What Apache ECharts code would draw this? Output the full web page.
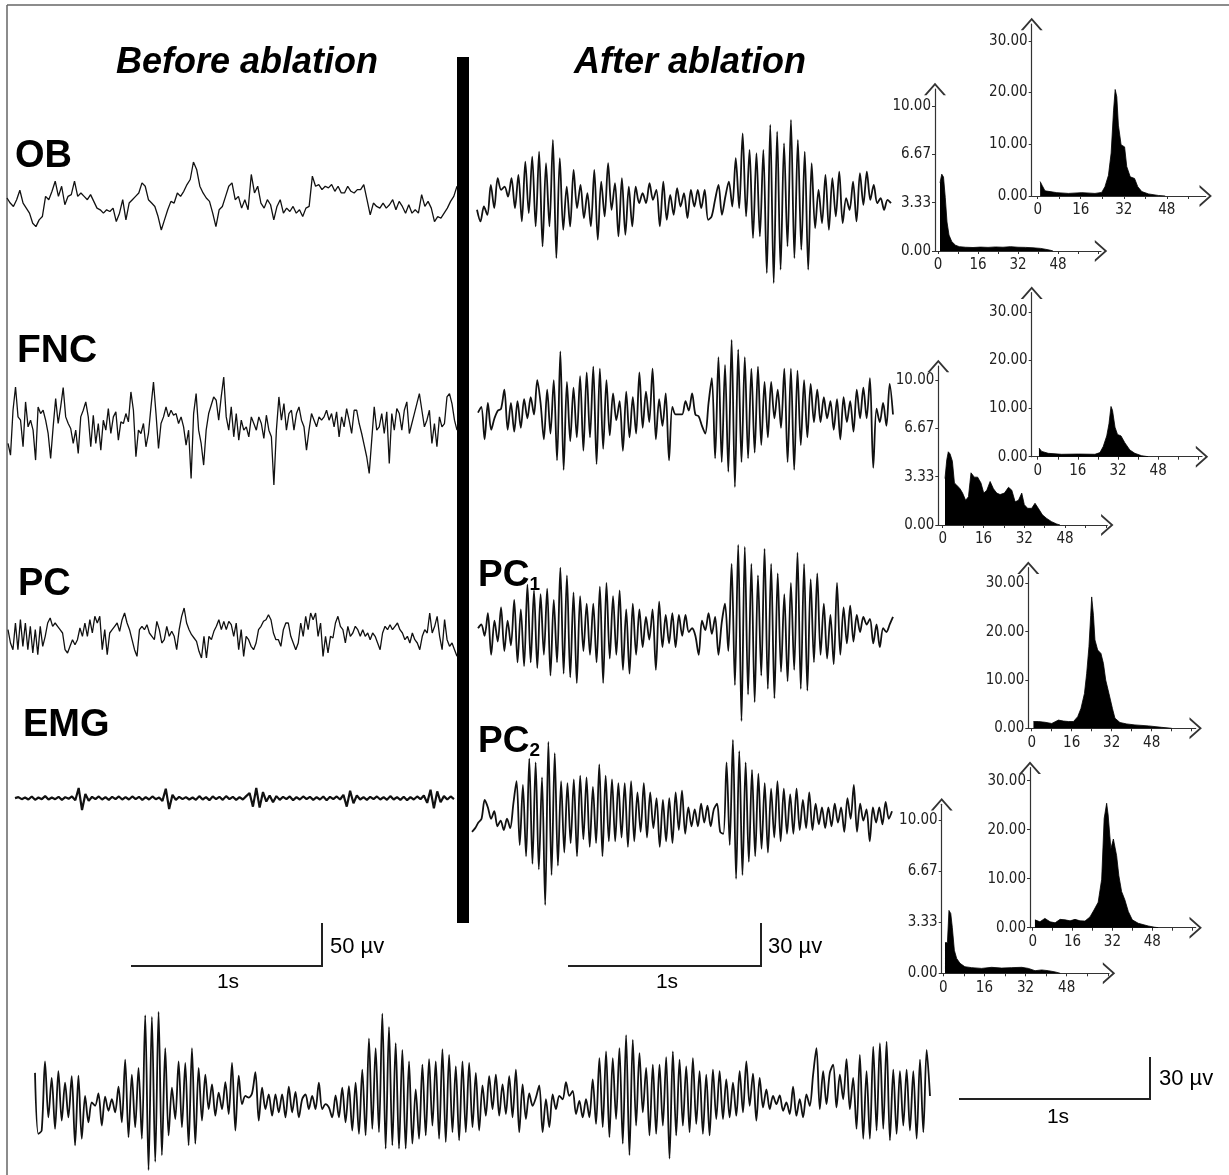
<!DOCTYPE html>
<html>
<head>
<meta charset="utf-8">
<script src="https://cdn.jsdelivr.net/npm/echarts@6/dist/echarts.min.js"></script>
<style>
html, body { margin: 0; padding: 0; background: #fff; }
#main { width: 1229px; height: 1175px; }
</style>
</head>
<body>
<div id="main"></div>
<script>
// ==============================================================
// Field potential traces (digitised amplitude, + = up),
// evenly sampled along the sweep
// ==============================================================
var beforeOB = [20,5,-5,15,43,5,-10,-25,-55,-65,-45,-35,25,15,40,70,25,55,0,25,30,70,25,35,25,15,30,10,-10,-15,
  -25,-15,-20,-10,-50,-25,15,-45,5,15,25,35,65,55,15,5,-5,-35,-75,-45,-15,10,5,35,25,40,60,75,127,105,
  55,35,20,10,-25,-65,-15,-5,25,55,65,15,25,-10,15,-15,90,35,55,5,-10,15,0,-45,-5,15,-25,-10,-20,-5,
  -25,-15,-35,-10,-5,85,55,60,45,55,50,60,40,55,35,35,55,40,35,45,45,60,15,-30,5,-5,-10,5,-10,0,
  15,-15,10,-5,-25,0,-25,-15,-25,30,-5,10,-10,-50,-35,-40,-25,-10,10,25,55];

var beforeFNC = [-50,-85,50,120,30,20,-60,75,0,20,-10,-100,60,40,50,20,-20,-95,0,85,10,60,118,30,10,-5,-50,-10,-80,30,
  50,75,30,-60,35,-50,10,-70,20,-10,55,-20,30,45,-40,15,10,40,15,105,50,-90,-10,-20,10,-60,-20,60,135,40,
  -65,10,30,60,30,50,35,40,10,30,0,-55,-10,-155,40,100,-10,-50,-115,-10,40,65,90,80,20,90,150,30,-10,60,
  -30,40,-40,20,-10,0,-30,30,10,-10,30,10,-35,35,-10,-30,-175,-10,90,20,70,-10,40,50,-10,40,60,20,0,-70,
  -10,40,20,0,30,20,30,50,20,40,0,45,-30,30,0,55,20,-20,50,50,10,-20,-55,-90,-140,-40,60,-10,0,40,
  -20,45,-110,40,-10,55,40,-10,50,75,-20,10,40,70,100,50,0,20,50,-50,10,-60,30,0,10,90,100,70,20,-10];

var beforePC = [10,-30,-50,30,-50,40,-40,30,-50,20,-60,10,-65,20,-40,-10,30,45,20,30,20,10,0,-50,-60,-40,-20,-35,-20,15,
  -10,30,-10,40,0,50,30,50,-50,10,-65,0,10,20,30,5,40,60,30,10,-20,-50,-70,10,20,10,25,0,-10,-20,
  35,10,-30,-20,20,-10,5,-10,-50,10,50,75,30,10,-5,-15,-25,-55,-75,-10,-75,-10,-20,5,20,40,10,35,10,35,
  25,-10,30,-50,10,-70,-10,-20,-40,-50,-30,10,20,35,40,55,40,0,-20,-20,-40,10,30,30,-10,-30,-50,-30,30,-10,
  50,10,60,40,60,-10,30,-70,-10,-60,-10,-15,30,50,20,10,-30,20,-10,0,20,10,-10,10,-10,0,-20,0,-10,-30,
  -50,0,20,10,25,10,20,30,10,0,-20,-10,-30,0,-20,-30,-50,-10,10,0,60,0,20,50,-10,-50,40,-20,-40,-30,
  -50,-70];

var emg = [0,3,-3,2,-4,5,-5,2,-3,6,-4,2,-3,4,-5,3,-2,5,-6,
  30,-35,12,-8,
  4,-3,5,-4,3,-5,4,-3,5,-4,3,-4,5,-3,4,-5,3,-4,5,-3,2,
  -8,28,-32,10,-5,
  4,-3,3,-4,2,-5,6,-4,3,-6,5,-3,4,-5,6,-3,4,-5,3,-4,6,
  15,-25,30,-28,18,-10,
  8,-12,6,-5,4,-3,5,-6,3,-4,5,-3,4,-5,3,-4,5,-6,4,-3,5,-4,
  10,-25,22,-15,8,-4,
  3,-5,4,-3,5,-4,3,-5,6,-4,3,-5,4,-6,3,-4,5,-3,8,
  -14,25,-30,20,-12,6,
  -4,5,-3];

var afterOB = [-15,-50,-5,-30,60,-10,80,45,55,25,80,-10,90,-50,130,-25,145,-65,160,-125,125,-65,195,-160,140,-75,55,-65,105,-10,
  60,-40,35,-65,105,-105,70,-35,125,-15,65,-95,80,-90,55,-65,55,5,35,5,65,15,45,-65,70,-45,30,-30,50,-5,
  35,-40,45,-5,45,-10,45,-45,-35,15,60,-30,25,70,-5,140,-10,215,-35,165,-100,155,-95,165,-205,240,-235,220,-195,185,
  -125,255,-160,195,-135,160,-195,125,-70,45,-55,90,-75,80,-35,100,-55,20,-15,70,-50,95,0,100,15,60,5,20,-15,15,5];

var afterFNC = [0,15,-70,25,-45,-15,5,10,60,-45,25,-50,30,-40,35,-15,40,-5,85,25,-70,60,-55,85,-125,160,-150,80,-75,65,
  -65,95,-100,105,-65,120,-135,115,-95,85,-60,50,-20,30,-100,55,-65,40,-55,105,-40,55,-25,115,-70,35,-35,50,-125,15,
  -5,-5,-5,30,5,50,-5,-10,-35,-55,25,90,-120,145,-130,125,-155,190,-195,165,-130,145,-120,115,-105,120,-85,80,-65,80,
  -15,60,-40,115,-130,115,-150,110,-85,85,-65,75,-25,60,-25,40,-15,30,-45,35,-70,40,-25,30,-50,60,-15,65,-15,90,
  -145,10,-25,25,-35,75,-5];

var afterPC1 = [10,20,-10,50,-60,30,-25,65,-50,30,-35,85,-80,60,-90,125,-80,110,-95,100,-60,115,-115,85,-80,170,-110,150,-120,105,
  -135,95,-50,75,-60,75,-80,120,-135,130,-70,95,-60,110,-100,60,-110,75,-60,60,-40,40,-20,60,-100,80,-40,45,-30,50,
  -40,45,-10,45,0,10,-10,-60,30,5,50,-5,40,-60,25,75,-50,180,-140,230,-235,225,-165,180,-185,150,-115,220,-150,180,
  -175,155,-105,100,-130,130,-100,210,-150,180,-155,140,-80,155,-60,75,-70,45,-85,130,-60,65,-30,70,-25,45,0,40,
  20,35,-30,20,-40,10,0,20,40];

var afterPC2 = [-35,-25,-10,0,50,30,0,20,-20,-5,-30,0,-25,40,100,-70,90,-100,160,-120,150,-135,110,-230,205,-150,175,-125,100,-90,
  95,-65,105,-100,115,-55,110,-75,85,-65,145,-100,115,-60,105,-60,95,-50,95,-75,100,-60,70,-35,95,-50,70,-25,55,-75,
  50,-60,55,-65,70,-30,75,-40,30,-20,25,-20,40,-10,35,-20,25,40,-35,-40,150,-70,210,-160,180,-150,150,-115,130,-100,
  120,-80,95,-90,80,-50,100,-60,80,-40,65,-40,80,-30,50,-25,70,-30,40,-15,30,-25,30,-20,40,-10,30,-35,55,0,
  90,-35,40,-5,25,-60,30,-10,30,-15,45,0,20];

var longTrace = [80,-105,-95,115,-55,65,-90,85,-65,50,-55,70,-140,72,-120,10,-70,-10,-20,18,-80,8,-35,0,-40,38,-70,120,-115,75,
  -85,95,-120,255,-215,250,-190,265,-170,155,-110,35,-60,115,-85,110,-140,155,-135,95,-65,75,-30,45,-50,20,-30,52,-45,110,
  -95,72,-15,10,5,18,82,-65,35,-30,15,-50,15,-40,15,-55,38,-40,22,-55,0,15,-30,10,-30,50,-30,-15,-25,-55,
  12,-55,35,-70,40,-95,50,-105,90,-110,185,-90,155,-100,260,-150,220,-140,170,-150,150,-150,115,-135,30,-120,105,-110,122,-80,
  115,-120,152,-130,135,-100,100,-125,115,-100,110,-85,80,-95,42,-50,70,-30,75,-50,45,-45,70,-55,90,-100,45,-60,18,-20,
  5,42,-100,0,-85,15,-30,10,0,52,10,25,-45,-5,-55,0,-55,60,-75,125,-85,145,-115,125,-60,155,-135,195,-170,180,
  -80,140,-40,95,-110,105,-105,105,-80,128,-180,145,-110,120,-80,100,-100,125,-75,85,-105,75,-110,90,-60,85,-60,60,-55,50,
  -50,85,-40,115,-20,78,-65,65,-25,30,-30,10,-15,12,-35,-10,-45,38,-50,0,-55,15,-20,75,155,-30,85,-15,80,105,
  -25,75,0,122,-30,65,-90,135,-120,85,-120,160,-95,170,-90,175,-125,90,-105,85,-80,90,-95,85,-120,120,-100,150,10];

// ==============================================================
// Histograms: [frequency, value]
// ==============================================================
var histOBBefore = [[0.8,4.7],[1.5,5.3],[2.2,5.1],[2.9,3.7],[3.6,2.0],[4.4,1.1],[5.5,0.65],[7,0.4],[8.5,0.3],[11,0.26],
  [14,0.24],[17,0.27],[20,0.25],[23,0.28],[26,0.26],[29,0.3],[32,0.26],[35,0.25],[38,0.22],[41,0.18],[43,0.12],[45,0.05],[46,0]];
var histOBAfter = [[0.9,2.8],[1.7,2.0],[2.7,1.0],[4.6,0.85],[7.1,0.65],[11.4,0.5],[16.4,0.65],[21.3,0.5],[23.8,0.7],[25,1.8],
  [26.3,4],[27.3,8.3],[28.2,16.6],[28.8,20.6],[29.4,19.2],[30,13.7],[31,9.9],[32.3,9.5],[33.1,5.7],[34.4,3.7],[36,3.4],
  [37.2,1.8],[38.7,0.85],[41.2,0.4],[44.9,0.1],[47.4,0]];
var histFNCBefore = [[0.9,3.2],[1.6,4.5],[2.2,5.05],[2.9,4.9],[3.8,4.4],[4.6,2.9],[5.5,2.75],[6.8,2.5],[7.8,2.2],[9,1.7],
  [10.1,1.95],[11.1,3.6],[12.4,3.3],[13.7,3.3],[15,2.9],[16.1,2.2],[17.3,2.4],[18.6,3.0],[19.9,2.5],[21.2,2.2],[22.5,2.1],
  [24.2,2.2],[25.8,2.6],[27.1,2.4],[28.4,1.6],[29.7,1.7],[31,2.2],[32,1.4],[33.3,1.15],[34.9,1.15],[36.2,1.5],[37.5,1.15],
  [39.1,0.7],[40.8,0.45],[42.7,0.23],[44.7,0.07],[46,0]];
var histFNCAfter = [[0.5,1.8],[1.6,1.1],[4.2,0.7],[9.5,0.5],[16.2,0.55],[22.8,0.5],[24.8,0.85],[26.1,2.1],[27.5,4.3],[28.4,6.8],
  [29.2,10.4],[29.8,9.6],[30.8,6.1],[31.8,4.6],[33.2,4.3],[34.7,2.9],[36.7,1.4],[38.7,0.7],[41.4,0.2],[44,0]];
var histPC1After = [[0.7,1.4],[2.7,1.4],[5.3,1.25],[8,1.0],[10.7,1.7],[12.7,1.5],[14.7,1.4],[16.7,1.4],[18.4,2.4],[19.7,4.1],
  [21.1,7.2],[22,11.4],[22.9,16.9],[23.6,23.4],[24,27.2],[24.7,23.4],[25.3,18.3],[26.4,16.2],[27.7,15.5],[28.7,13.4],[29.6,10],
  [30.9,7.2],[32.3,4.1],[33.3,2.1],[35.3,1.2],[38,0.9],[41.3,0.7],[46.7,0.5],[52,0.2],[56,0]];
var histPC2Before = [[0.65,2.0],[1.6,2.0],[2.2,4.1],[2.9,3.9],[3.5,3.0],[4.3,1.5],[5.2,0.97],[6.5,0.65],[8.4,0.43],[11,0.37],
  [14.9,0.32],[18.8,0.39],[22.7,0.34],[26.6,0.37],[30.5,0.39],[33.1,0.32],[35.7,0.17],[38.3,0.22],[40.9,0.17],[43.5,0.09],[45.5,0]];
var histPC2After = [[0.9,1.6],[2.9,1.2],[4.9,1.9],[7,1.2],[9,1.0],[11,1.7],[13,1.6],[15,1.4],[17,1.7],[19,1.4],[21,1.35],
  [23,2.2],[24.6,3.6],[26.3,5.2],[27.7,9.9],[28.7,22.3],[29.7,25.4],[30.3,23],[31.4,16.1],[32.4,18.1],[33,18.5],[33.7,14.7],
  [34.6,10.6],[35.7,7.4],[37,5.7],[38.4,3.3],[40,1.6],[42.4,0.9],[46.4,0.35],[49,0.1],[50.4,0]];

var xTickLabels = [0, 16, 32, 48];
var xTickMarks = [0, 8, 16, 24, 32, 40, 48, 56, 64];
var yTicksSmall = [0, 10 / 3, 20 / 3, 10];
var yTicksLarge = [0, 10, 20, 30];

// ==============================================================
// layout
// ==============================================================
var traceLayout = [
    { data: beforeOB,  left: 7,   right: 457, top: 162,  bottom: 230,  lw: 1.3, smooth: false },
    { data: beforeFNC, left: 8,   right: 457, top: 377,  bottom: 485,  lw: 1.3, smooth: false },
    { data: beforePC,  left: 8,   right: 457, top: 608,  bottom: 658,  lw: 1.3, smooth: false },
    { data: emg,       left: 15,  right: 454, top: 788,  bottom: 810,  lw: 2.2, smooth: false },
    { data: afterOB,   left: 477, right: 891, top: 120,  bottom: 283,  lw: 1.8, smooth: 0.3 },
    { data: afterFNC,  left: 478, right: 893, top: 340,  bottom: 487,  lw: 1.8, smooth: 0.3 },
    { data: afterPC1,  left: 478, right: 893, top: 545,  bottom: 721,  lw: 1.8, smooth: 0.3 },
    { data: afterPC2,  left: 472, right: 892, top: 740,  bottom: 905,  lw: 1.8, smooth: 0.3 },
    { data: longTrace, left: 35,  right: 930, top: 1012, bottom: 1170, lw: 1.8, smooth: 0.3 }
];

var histLayout = [
    { data: histOBBefore,  ticks: yTicksSmall, x0: 938,    ppu: 2.5,  axisX: 935,    tip: 1107,   y0: 251,   yppu: 14.5,  arrowTop: 83 },
    { data: histOBAfter,   ticks: yTicksLarge, x0: 1037.7, ppu: 2.69, axisX: 1031.7, tip: 1211.7, y0: 196,   yppu: 5.17,  arrowTop: 18 },
    { data: histFNCAfter,  ticks: yTicksLarge, x0: 1037.7, ppu: 2.51, axisX: 1031.7, tip: 1208,   y0: 456.7, yppu: 4.83,  arrowTop: 286.7 },
    { data: histFNCBefore, ticks: yTicksSmall, x0: 942.7,  ppu: 2.55, axisX: 938.3,  tip: 1113.3, y0: 525,   yppu: 14.5,  arrowTop: 360 },
    { data: histPC1After,  ticks: yTicksLarge, x0: 1031.7, ppu: 2.5,  axisX: 1028.3, tip: 1201.7, y0: 728.3, yppu: 4.83,  arrowTop: 561.7 },
    { data: histPC2After,  ticks: yTicksLarge, x0: 1032.7, ppu: 2.49, axisX: 1030,   tip: 1201.7, y0: 927.7, yppu: 4.9,   arrowTop: 761.7 },
    { data: histPC2Before, ticks: yTicksSmall, x0: 943.3,  ppu: 2.57, axisX: 941.7,  tip: 1115,   y0: 973.3, yppu: 15.33, arrowTop: 798.3 }
];

var chevron = 'path://M0,9 L8,0 L16,9 L14.2,9 L8,2 L1.8,9 Z';
var narrow = '"Liberation Sans Narrow", "DejaVu Sans Condensed", sans-serif';
var sans = '"Liberation Sans", Arial, sans-serif';

var dom = document.getElementById('main');
var chart = echarts.init(dom);

var option = {
    animation: false,
    backgroundColor: '#fff',
    grid: [],
    xAxis: [],
    yAxis: [],
    series: [],
    graphic: []
};

traceLayout.forEach(function (t) {
    var i = option.grid.length;
    option.grid.push({ left: t.left, top: t.top, width: t.right - t.left, height: t.bottom - t.top, outerBoundsMode: 'none' });
    option.xAxis.push({ type: 'value', gridIndex: i, min: 0, max: t.data.length - 1, show: false });
    option.yAxis.push({ type: 'value', gridIndex: i, min: 'dataMin', max: 'dataMax', show: false });
    option.series.push({
        type: 'line', xAxisIndex: i, yAxisIndex: i, showSymbol: false, symbol: 'none', smooth: t.smooth,
        lineStyle: { color: '#111', width: t.lw },
        data: t.data.map(function (v, k) { return [k, v]; })
    });
});

histLayout.forEach(function (h) {
    var i = option.grid.length;
    var end = h.tip - 6;
    var top = h.arrowTop + 6;
    var xmin = (h.axisX - h.x0) / h.ppu;
    var xmax = (end - h.x0) / h.ppu;
    var ymax = (h.y0 - top) / h.yppu;
    var axisLine = { show: true, onZero: false, symbol: ['none', chevron], symbolSize: [22, 13],
                     lineStyle: { color: '#333', width: 1.2 } };
    option.grid.push({ left: h.axisX, top: top, width: end - h.axisX, height: h.y0 - top, outerBoundsMode: 'none' });
    option.xAxis.push({
        type: 'value', gridIndex: i, min: xmin, max: xmax,
        axisLine: axisLine, splitLine: { show: false },
        axisTick: { show: true, length: 3, customValues: xTickMarks.filter(function (v) { return v <= xmax; }),
                    lineStyle: { color: '#333' } },
        axisLabel: { customValues: xTickLabels, margin: 7, color: '#222', fontSize: 15, fontFamily: narrow }
    });
    option.yAxis.push({
        type: 'value', gridIndex: i, min: 0, max: ymax,
        axisLine: axisLine, splitLine: { show: false },
        axisTick: { show: true, length: 3, customValues: h.ticks, lineStyle: { color: '#333' } },
        axisLabel: { customValues: h.ticks, margin: 4, color: '#222', fontSize: 15, fontFamily: narrow,
                     formatter: function (v) { return v.toFixed(2); } }
    });
    option.series.push({
        type: 'line', xAxisIndex: i, yAxisIndex: i, showSymbol: false, symbol: 'none',
        lineStyle: { color: '#000', width: 0.8 },
        areaStyle: { color: '#000', opacity: 1 },
        data: h.data
    });
});

function label(text, x, y, size, align, style) {
    return { type: 'text', x: x, y: y, z: 10,
             style: { text: text, fill: '#000', font: (style || 'bold') + ' ' + size + 'px ' + sans,
                      textAlign: align || 'left', textVerticalAlign: 'middle' } };
}
function subLabel(main, sub, x, y) {
    return { type: 'text', x: x, y: y, z: 10,
             style: { text: '{m|' + main + '}{s|' + sub + '}', textAlign: 'left', textVerticalAlign: 'middle',
                      rich: { m: { fontFamily: sans, fontWeight: 'bold', fontSize: 37, lineHeight: 36, fill: '#000' },
                              s: { fontFamily: sans, fontWeight: 'bold', fontSize: 19, lineHeight: 18, fill: '#000',
                                   verticalAlign: 'bottom' } } } };
}
function bar(pts) {
    return { type: 'polyline', z: 10, shape: { points: pts }, style: { stroke: '#222', lineWidth: 2, fill: null } };
}

option.graphic = [
    // frame
    { type: 'line', shape: { x1: 7, y1: 5, x2: 1229, y2: 5 }, style: { stroke: '#666', lineWidth: 1.5 } },
    { type: 'line', shape: { x1: 7, y1: 5, x2: 7, y2: 1175 }, style: { stroke: '#666', lineWidth: 1.5 } },
    // separator
    { type: 'rect', shape: { x: 457, y: 57, width: 12, height: 866 }, style: { fill: '#000' } },
    label('Before ablation', 247, 63, 36, 'center', 'italic bold'),
    label('After ablation', 690, 63, 36, 'center', 'italic bold'),
    label('OB', 15, 157, 38),
    label('FNC', 17, 351, 39),
    label('PC', 18, 585, 38),
    label('EMG', 23, 726, 38),
    subLabel('PC', '1', 478, 576),
    subLabel('PC', '2', 478, 742),
    // calibration bars
    bar([[131, 966], [322, 966], [322, 923]]),
    label('50 µv', 330, 947, 22, 'left', 'normal'),
    label('1s', 228, 982, 21, 'center', 'normal'),
    bar([[568, 966], [761, 966], [761, 923]]),
    label('30 µv', 768, 947, 22, 'left', 'normal'),
    label('1s', 667, 982, 21, 'center', 'normal'),
    bar([[959, 1099], [1150, 1099], [1150, 1057]]),
    label('30 µv', 1159, 1079, 22, 'left', 'normal'),
    label('1s', 1058, 1117, 21, 'center', 'normal')
];

chart.setOption(option);
</script>
</body>
</html>
